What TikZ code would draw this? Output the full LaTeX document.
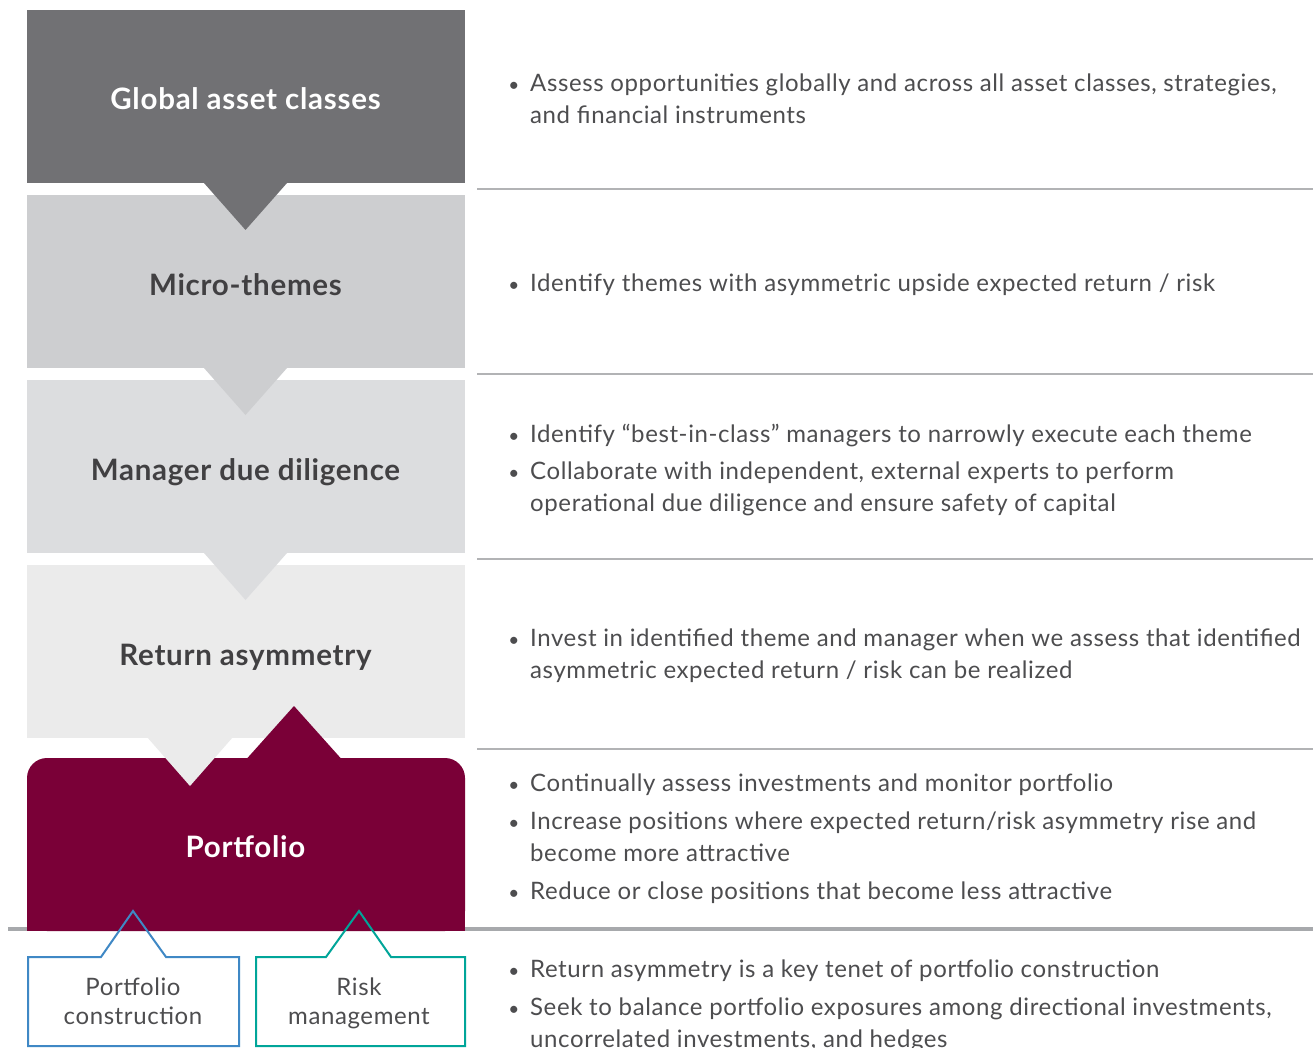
\documentclass[tikz,border=0pt]{standalone}
\usepackage{fontspec}
\setmainfont[LetterSpace=2.5]{Lato}
\definecolor{gA}{HTML}{717174}
\definecolor{gB}{HTML}{CDCED0}
\definecolor{gC}{HTML}{DCDDDF}
\definecolor{gD}{HTML}{EBEBEB}
\definecolor{maroon}{HTML}{7A0037}
\definecolor{pblue}{HTML}{3F88C5}
\definecolor{pteal}{HTML}{00A599}
\definecolor{sep}{HTML}{B2B3B5}
\definecolor{septhick}{HTML}{A7A9AC}
\definecolor{txt}{HTML}{4D4D4F}
\definecolor{ttl}{HTML}{414042}
\begin{document}
\begin{tikzpicture}[x=1pt,y=-1pt,
  title/.style={font=\fontsize{29.5}{32}\selectfont\bfseries, inner sep=0pt, anchor=base},
  btxt/.style={font=\fontsize{24}{32}\selectfont, text=txt, inner sep=0pt, anchor=base west},
  bdot/.style={font=\fontsize{19}{32}\selectfont, text=txt, inner sep=0pt, anchor=base},
  small/.style={font=\fontsize{24}{29}\selectfont, text=txt, inner sep=0pt, anchor=base},
  sepline/.style={draw=sep, line width=1.3pt},
  outbox/.style={line width=2pt, fill=none, line join=miter}
]
\useasboundingbox (0,0) rectangle (1313,1048);
\fill[white] (0,0) rectangle (1313,1048);
% separators
\draw[sepline] (477,189) -- (1313,189);
\draw[sepline] (477,374) -- (1313,374);
\draw[sepline] (477,559) -- (1313,559);
\draw[sepline] (477,749) -- (1313,749);
\draw[draw=septhick, line width=4pt] (8,929) -- (1313,929);
% boxes
\fill[gA] (27,10) rectangle (465,183);
\fill[gB] (27,195) rectangle (465,368);
\fill[gA] (204,183) -- (287,183) -- (245.5,230) -- cycle;
\fill[gC] (27,380) rectangle (465,553);
\fill[gB] (204,368) -- (287,368) -- (245.5,415) -- cycle;
\fill[gD] (27,565) rectangle (465,738);
\fill[gC] (204,553) -- (287,553) -- (245.5,600) -- cycle;
% portfolio
\fill[maroon, rounded corners=20pt] (27,758) rectangle (465,931);
\fill[maroon] (27,800) rectangle (465,931);
\fill[maroon] (247,758.5) -- (341,758.5) -- (294,706) -- cycle;
\fill[gD] (147,737) -- (233,737) -- (190,786) -- cycle;
% bottom boxes
\draw[outbox, draw=pblue] (101,957) -- (133,911) -- (166,957) -- (239,957) -- (239,1046) -- (28,1046) -- (28,957) -- cycle;
\draw[outbox, draw=pteal] (326,957) -- (359,911) -- (391,957) -- (465,957) -- (465,1046) -- (256,1046) -- (256,957) -- cycle;
% titles
\node[title, text=white] (t1) at (245.5,110) {Global asset classes};
\node[title, text=ttl] (t2) at (245.5,295) {Micro-themes};
\node[title, text=ttl] (t3) at (245.5,480) {Manager due diligence};
\node[title, text=ttl] (t4) at (245.5,665) {Return asymmetry};
\node[title, text=white] (t5) at (245.5,857) {Portfolio};
\node[small] (pc1) at (133,995) {Portfolio};
\node[small] (pc2) at (133,1024) {construction};
\node[small] (rm1) at (359,995) {Risk};
\node[small] (rm2) at (359,1024) {management};
% bullets
\node[bdot] (d1) at (514,92) {•};
\node[btxt] (b1a) at (530,92) {Assess opportunities globally and across all asset classes, strategies,};
\node[btxt] (b1b) at (530,124) {and financial instruments};
\node[bdot] (d2) at (514,292) {•};
\node[btxt] (b2) at (530,292) {Identify themes with asymmetric upside expected return / risk};
\node[bdot] (d3) at (514,442) {•};
\node[btxt] (b3) at (530,442) {Identify “best-in-class” managers to narrowly execute each theme};
\node[bdot] (d4) at (514,479) {•};
\node[btxt] (b4a) at (530,479) {Collaborate with independent, external experts to perform};
\node[btxt] (b4b) at (530,511) {operational due diligence and ensure safety of capital};
\node[bdot] (d5) at (514,646) {•};
\node[btxt] (b5a) at (530,646) {Invest in identified theme and manager when we assess that identified};
\node[btxt] (b5b) at (530,678) {asymmetric expected return / risk can be realized};
\node[bdot] (d6) at (514,791) {•};
\node[btxt] (b6) at (530,791) {Continually assess investments and monitor portfolio};
\node[bdot] (d7) at (514,829) {•};
\node[btxt] (b7a) at (530,829) {Increase positions where expected return/risk asymmetry rise and};
\node[btxt] (b7b) at (530,861) {become more attractive};
\node[bdot] (d8) at (514,899) {•};
\node[btxt] (b8) at (530,899) {Reduce or close positions that become less attractive};
\node[bdot] (d9) at (514,977) {•};
\node[btxt] (b9) at (530,977) {Return asymmetry is a key tenet of portfolio construction};
\node[bdot] (d10) at (514,1015) {•};
\node[btxt] (b10a) at (530,1015) {Seek to balance portfolio exposures among directional investments,};
\node[btxt] (b10b) at (530,1047) {uncorrelated investments, and hedges};
\end{tikzpicture}
\end{document}
